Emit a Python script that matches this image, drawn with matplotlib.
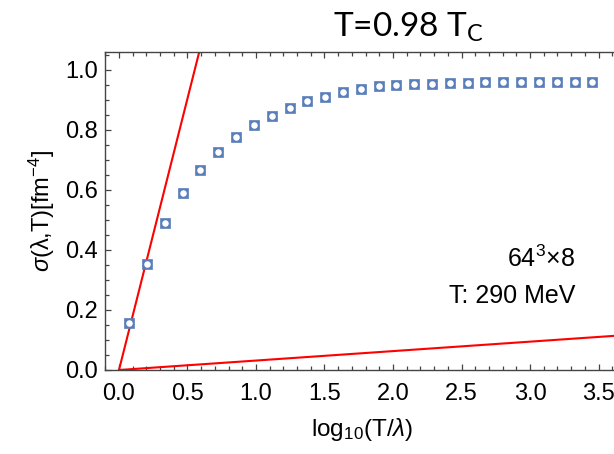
import matplotlib
matplotlib.use("Agg")
import matplotlib.pyplot as plt
from matplotlib.ticker import MultipleLocator, FormatStrFormatter

plt.rcParams['font.family'] = ['Liberation Sans', 'DejaVu Sans']
plt.rcParams['mathtext.fontset'] = 'custom'
plt.rcParams['mathtext.rm'] = 'Liberation Sans'
plt.rcParams['mathtext.it'] = 'Liberation Sans:italic'

# data
log_t_over_lambda = [0.075, 0.205, 0.335, 0.465, 0.595, 0.725, 0.855, 0.985, 1.115,
                     1.245, 1.375, 1.505, 1.635, 1.765, 1.895, 2.025, 2.155, 2.285,
                     2.415, 2.545, 2.675, 2.805, 2.935, 3.065, 3.195, 3.325, 3.455]
sigma = [0.158, 0.353, 0.489, 0.591, 0.667, 0.728, 0.777, 0.817, 0.848,
         0.875, 0.896, 0.911, 0.926, 0.938, 0.946, 0.950, 0.953, 0.955,
         0.957, 0.958, 0.959, 0.959, 0.960, 0.960, 0.960, 0.960, 0.960]
line_slopes = [1.81, 0.0315]
title_main = "T=0.98 T"
title_sub = "C"
annot_lines = [r"64$^\mathregular{3}$×8", "T: 290 MeV"]

W, H = 614, 454
fig = plt.figure(figsize=(W / 100, H / 100), dpi=100)
ax = fig.add_axes([105 / W, (H - 370) / H, 1.0 - 105 / W + 0.01, (370 - 52) / H])

blue = '#5A7EBA'
for s in line_slopes:
    ax.axline((0, 0), slope=s, color='red', lw=1.5, zorder=2)
ax.plot(log_t_over_lambda, sigma, ls='none', marker='s', ms=6.8, mfc=blue, mec=blue,
        mew=0.5, zorder=3)
ax.plot(log_t_over_lambda, sigma, ls='none', marker='o', ms=4.7, mfc='white', mec='white',
        mew=0, zorder=4)

ax.set_xlim(-0.102, 3.613 + 0.01 * W / 509 * 3.715)
ax.set_ylim(0, 1.06)
ax.xaxis.set_major_locator(MultipleLocator(0.5))
ax.xaxis.set_minor_locator(MultipleLocator(0.1))
ax.yaxis.set_major_locator(MultipleLocator(0.2))
ax.yaxis.set_minor_locator(MultipleLocator(0.05))
ax.xaxis.set_major_formatter(FormatStrFormatter('%.1f'))
ax.yaxis.set_major_formatter(FormatStrFormatter('%.1f'))

sc = '#444444'
for sp in ax.spines.values():
    sp.set_color(sc)
    sp.set_linewidth(1.0)
ax.spines['right'].set_visible(False)
ax.tick_params(which='both', direction='in', top=True, right=False, color=sc, width=0.9)
ax.tick_params(which='major', length=4.5, labelsize=17)
ax.tick_params(which='minor', length=2.6)
ax.tick_params(axis='x', which='major', pad=9)
ax.tick_params(axis='y', which='major', pad=5)

ax.set_xlabel(r"log$_\mathregular{10}$(T/$\lambda$)", fontsize=17.5, labelpad=8)
ax.set_ylabel(r"$\sigma$(λ,T)[fm$^\mathregular{-4}$]", fontsize=17, labelpad=6)

fig.text(575 / W, (H - 266.7) / H, annot_lines[0], fontsize=18, ha='right', va='baseline')
fig.text(575 / W, (H - 303) / H, annot_lines[1], fontsize=18, ha='right', va='baseline')

fig.text(333 / W, (H - 36.7) / H, title_main + r"$_\mathregular{" + title_sub + "}$",
         fontsize=24, family=['Lato', 'DejaVu Sans'], ha='left', va='baseline')

fig.savefig("out.png", dpi=100)
